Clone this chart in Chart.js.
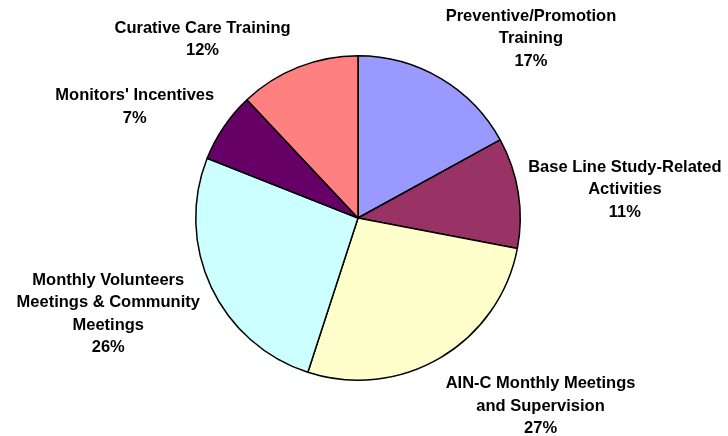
<!DOCTYPE html>
<html>
<head>
<meta charset="utf-8">
<title>Budget breakdown</title>
<script src="https://cdn.jsdelivr.net/npm/chart.js@4.4.1/dist/chart.umd.min.js"></script>
<style>
  html, body { margin: 0; padding: 0; background: #fff; }
  #wrap { width: 728px; height: 436px; position: relative; }
</style>
</head>
<body>
<div id="wrap"><canvas id="myChart"></canvas></div>
<script>
// categories, each one split into the lines shown next to the pie
let categories = [
  ["Preventive/Promotion", "Training"],
  ["Base Line Study-Related", "Activities"],
  ["AIN-C Monthly Meetings", "and Supervision"],
  ["Monthly Volunteers", "Meetings & Community", "Meetings"],
  ["Monitors' Incentives"],
  ["Curative Care Training"]
];
let shares = [17, 11, 27, 26, 7, 12];
let sliceColors = ["#9999FF", "#993366", "#FFFFCC", "#CCFFFF", "#660066", "#FF8080"];

// small per-label nudges on top of the outside placement rule
let labelNudge = [[1, 1], [2, 9], [1, 8], [-4, -15], [-3, 7], [-28, 2]];

const labelFont = 'bold 16.5px "Liberation Sans", Arial, sans-serif';
const lineHeight = 22.5;

let outsideLabels = {
  id: "outsideLabels",
  afterDraw(chart) {
    let ctx = chart.ctx;
    let arcs = chart.getDatasetMeta(0).data;
    ctx.save();
    ctx.font = labelFont;
    ctx.fillStyle = "#000";
    ctx.textAlign = "center";
    ctx.textBaseline = "middle";
    arcs.forEach((arc, i) => {
      let lines = categories[i].concat([shares[i] + "%"]);
      let w = Math.max(...lines.map(l => ctx.measureText(l).width));
      let h = lines.length * lineHeight;
      let mid = (arc.startAngle + arc.endAngle) / 2;
      let r = arc.outerRadius + 8;
      let ax = arc.x + Math.cos(mid) * r;
      let ay = arc.y + Math.sin(mid) * r;
      let sx = Math.max(-1, Math.min(1, Math.cos(mid) * 2));
      let sy = Math.max(-1, Math.min(1, Math.sin(mid) * 2));
      let cx = ax + sx * w / 2 + labelNudge[i][0];
      let cy = ay + sy * h / 2 + labelNudge[i][1];
      let top = cy - h / 2 + lineHeight / 2;
      lines.forEach((l, k) => ctx.fillText(l, cx, top + k * lineHeight));
    });
    ctx.restore();
  }
};

let ctx = document.getElementById("myChart").getContext("2d");

const myChart = new Chart(ctx, {
  type: "pie",
  data: {
    labels: categories.map(c => c.join(" ")),
    datasets: [{
      data: shares,
      backgroundColor: sliceColors,
      borderColor: "#000",
      borderWidth: 1.5
    }]
  },
  options: {
    responsive: true,
    maintainAspectRatio: false,
    animation: false,
    layout: {
      padding: { top: 55, bottom: 55, left: 195, right: 207 }
    },
    plugins: {
      legend: { display: false },
      tooltip: { enabled: false }
    }
  },
  plugins: [outsideLabels]
});
</script>
</body>
</html>
